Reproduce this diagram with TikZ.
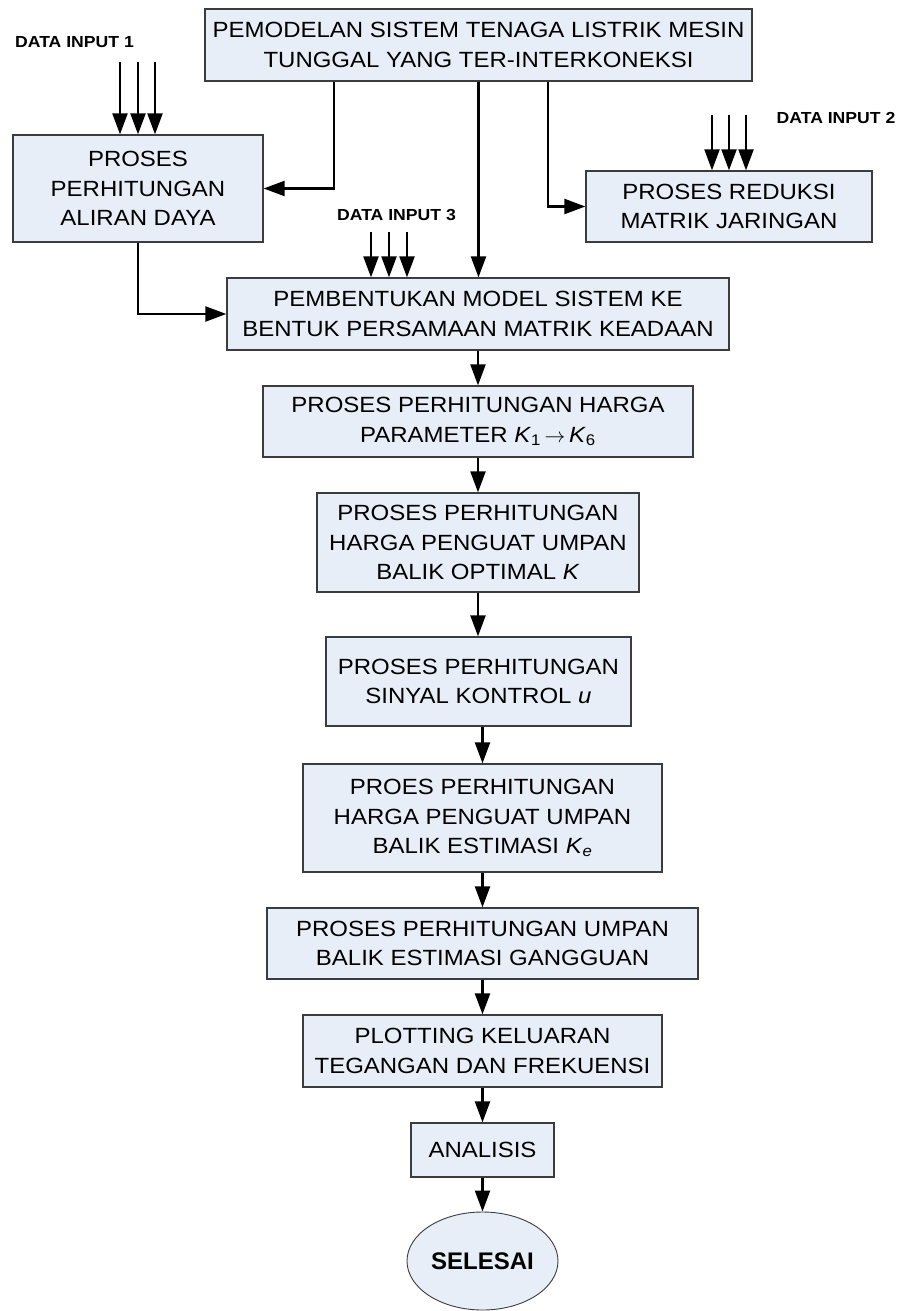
\documentclass[tikz,border=0pt]{standalone}
\usepackage{fontspec}
\setmainfont[FakeStretch=1.09]{Liberation Sans}
\newfontfamily\labelfont[FakeStretch=1.1]{Liberation Sans}
\newfontfamily\endfont{Liberation Sans}
\usetikzlibrary{arrows.meta,shapes.geometric}
\definecolor{boxfill}{RGB}{232,238,247}
\definecolor{boxline}{RGB}{60,60,60}

\begin{document}
\begin{tikzpicture}[x=1pt,y=1pt,
  proc/.style={draw=boxline, line width=1.3pt, fill=boxfill, align=center,
    inner sep=0pt, font=\fontsize{22}{29.5}\selectfont},
  sz/.style 2 args={minimum width=#1pt, minimum height=#2pt},
  endnode/.style={ellipse, draw=boxline, line width=0.9pt, fill=boxfill,
    inner sep=0pt, minimum width=151pt, minimum height=98pt,
    font=\endfont\fontsize{24}{28}\selectfont\bfseries},
  datalabel/.style={inner sep=0pt, font=\labelfont\fontsize{16}{18}\selectfont\bfseries},
  flow/.style={line width=2.2pt, -{Triangle[length=21pt,width=15pt]}}
]
\useasboundingbox (0,0) rectangle (903,-1311);

% process blocks
\node[proc, sz={547}{72}] (model) at (478.5,-45)
  {PEMODELAN SISTEM TENAGA LISTRIK MESIN\\TUNGGAL YANG TER-INTERKONEKSI};
\node[proc, sz={250}{107}] (aliran) at (138,-188.5)
  {PROSES\\PERHITUNGAN\\ALIRAN DAYA};
\node[proc, sz={286}{71}] (reduksi) at (729,-206.5)
  {PROSES REDUKSI\\MATRIK JARINGAN};
\node[proc, sz={502}{72}] (bentuk) at (478,-314)
  {PEMBENTUKAN MODEL SISTEM KE\\BENTUK PERSAMAAN MATRIK KEADAAN};
\node[proc, sz={430}{71}] (param) at (478,-421.5)
  {PROSES PERHITUNGAN HARGA\\PARAMETER \textit{K}\textsubscript{1}\,$\rightarrow$\,\textit{K}\textsubscript{6}};
\node[proc, sz={322}{99}] (optimal) at (478,-542.5)
  {PROSES PERHITUNGAN\\HARGA PENGUAT UMPAN\\BALIK OPTIMAL \textit{K}};
\node[proc, sz={305}{89}] (kontrol) at (478.5,-681.5)
  {PROSES PERHITUNGAN\\SINYAL KONTROL \textit{u}};
\node[proc, sz={359}{108}] (estimasi) at (482.5,-818)
  {PROES PERHITUNGAN\\HARGA PENGUAT UMPAN\\BALIK ESTIMASI \textit{K}\textsubscript{\textit{e}}};
\node[proc, sz={431}{71}] (gangguan) at (482.5,-943.5)
  {PROSES PERHITUNGAN UMPAN\\BALIK ESTIMASI GANGGUAN};
\node[proc, sz={359}{72}] (plot) at (482.5,-1051)
  {PLOTTING KELUARAN\\TEGANGAN DAN FREKUENSI};
\node[proc, sz={143}{54}] (analisis) at (482.5,-1150) {ANALISIS};
\node[endnode] (selesai) at (482.5,-1261) {SELESAI};

% data input labels
\node[datalabel] (in1) at (74.5,-42) {DATA INPUT 1};
\node[datalabel] (in2) at (836,-118) {DATA INPUT 2};
\node[datalabel] (in3) at (396.5,-215) {DATA INPUT 3};

% free ends of the data input arrows
\coordinate (d1a) at (120,-62);
\coordinate (d1b) at (138,-62);
\coordinate (d1c) at (155,-62);
\coordinate (d2a) at (712,-115);
\coordinate (d2b) at (729,-115);
\coordinate (d2c) at (746,-115);
\coordinate (d3a) at (371,-232);
\coordinate (d3b) at (389,-232);
\coordinate (d3c) at (407,-232);

\foreach \c in {d1a,d1b,d1c}
  \draw[flow] (\c) -- (\c |- aliran.north);
\foreach \c in {d2a,d2b,d2c}
  \draw[flow] (\c) -- (\c |- reduksi.north);
\foreach \c in {d3a,d3b,d3c}
  \draw[flow] (\c) -- (\c |- bentuk.north);

% connectors from the system model
\draw[flow] ([xshift=130pt]model.south west) |- (aliran.east);
\draw[flow] ([xshift=344pt]model.south west) |- (reduksi.west);
\draw[flow] (model.south) -- (model.south |- bentuk.north);
\draw[flow] (aliran.south) |- (bentuk.west);

% main sequence
\draw[flow] (bentuk.south) -- (param.north);
\draw[flow] (param.south) -- (optimal.north);
\draw[flow] (optimal.south) -- (optimal.south |- kontrol.north);
\draw[flow] (estimasi.north |- kontrol.south) -- (estimasi.north);
\draw[flow] (estimasi.south) -- (gangguan.north);
\draw[flow] (gangguan.south) -- (plot.north);
\draw[flow] (plot.south) -- (analisis.north);
\draw[flow] (analisis.south) -- (selesai.north);
\end{tikzpicture}
\end{document}
